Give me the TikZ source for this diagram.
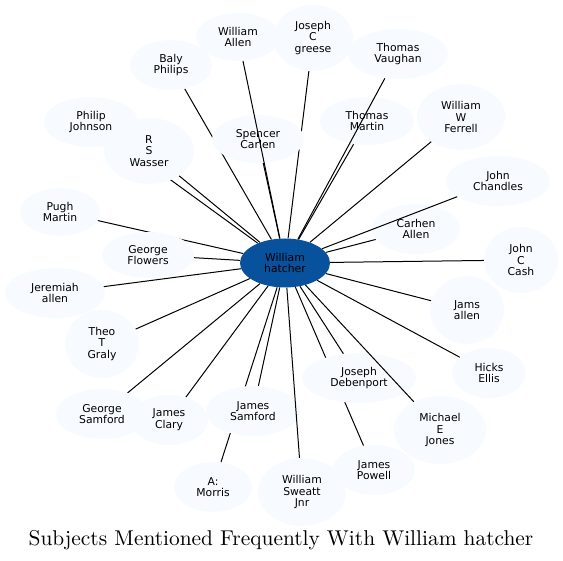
\documentclass[tikz,border=0pt]{standalone}
\usepackage{fontspec}
\usetikzlibrary{shapes.geometric}
\newfontfamily\labelfont{DejaVu Sans}
\newfontfamily\titlefont{lmroman10-regular}[Extension=.otf]
\definecolor{hubblue}{HTML}{08519C}
\definecolor{leafblue}{HTML}{F7FBFF}
\pgfdeclarelayer{background}
\pgfsetlayers{background,main}

\begin{document}
\begin{tikzpicture}[x=1pt, y=-1pt,
    person/.style={ellipse, fill=leafblue, inner sep=0pt, align=center,
      font=\labelfont\fontsize{10.8}{11.7}\selectfont},
    link/.style={line width=1pt}]
  \useasboundingbox (0,0) rectangle (563,561);

  \node[person, fill=hubblue, minimum width=90, minimum height=49] (hatcher) at (285,263) {William\\hatcher};

  \node[person, minimum width=84, minimum height=48] (allen) at (238,37) {William\\Allen};
  \node[person, minimum width=82, minimum height=50] (baly) at (171,65) {Baly\\Philips};
  \node[person, minimum width=80, minimum height=66] (greese) at (313,38) {Joseph\\C\\greese};
  \node[person, minimum width=100, minimum height=50] (vaughan) at (398,54) {Thomas\\Vaughan};
  \node[person, minimum width=94, minimum height=48] (tmartin) at (367,121) {Thomas\\Martin};
  \node[person, minimum width=88, minimum height=66] (ferrell) at (461,117) {William\\W\\Ferrell};
  \node[person, minimum width=104, minimum height=50] (chandles) at (498,181) {John\\Chandles};
  \node[person, minimum width=88, minimum height=50] (carhen) at (416,229) {Carhen\\Allen};
  \node[person, minimum width=74, minimum height=66] (cash) at (521,260) {John\\C\\Cash};
  \node[person, minimum width=92, minimum height=48] (spencer) at (258,139) {Spencer\\Carlen};
  \node[person, minimum width=94, minimum height=50] (johnson) at (91,122) {Philip\\Johnson};
  \node[person, minimum width=90, minimum height=66] (wasser) at (149,151) {R\\S\\Wasser};
  \node[person, minimum width=80, minimum height=48] (pugh) at (60,212) {Pugh\\Martin};
  \node[person, minimum width=92, minimum height=46] (flowers) at (148,255) {George\\Flowers};
  \node[person, minimum width=100, minimum height=50] (jeremiah) at (55,293) {Jeremiah\\allen};
  \node[person, minimum width=74, minimum height=68] (theo) at (102,344) {Theo\\T\\Graly};
  \node[person, minimum width=92, minimum height=50] (gsamford) at (102,414) {George\\Samford};
  \node[person, minimum width=78, minimum height=50] (clary) at (169,420) {James\\Clary};
  \node[person, minimum width=94, minimum height=50] (jsamford) at (253,411) {James\\Samford};
  \node[person, minimum width=78, minimum height=50] (morris) at (213,487) {A:\\Morris};
  \node[person, minimum width=88, minimum height=68] (sweatt) at (302,492) {William\\Sweatt\\Jnr};
  \node[person, minimum width=82, minimum height=50] (powell) at (374,470) {James\\Powell};
  \node[person, minimum width=114, minimum height=50] (debenport) at (359,378) {Joseph\\Debenport};
  \node[person, minimum width=92, minimum height=68] (jones) at (440,430) {Michael\\E\\Jones};
  \node[person, minimum width=74, minimum height=50] (hicks) at (489,373) {Hicks\\Ellis};
  \node[person, minimum width=74, minimum height=68] (jams) at (467,310) {Jams\\allen};

  \begin{pgfonlayer}{background}
    \foreach \who in {baly,greese,tmartin,ferrell,carhen,cash,spencer,johnson,wasser,pugh,flowers,jeremiah,theo,gsamford,clary,jsamford,morris,powell,debenport,hicks,jams}
      \draw[link] (hatcher) -- (\who);
  \end{pgfonlayer}
  \foreach \who in {allen,vaughan,chandles,jones,sweatt}
    \draw[link] (hatcher) -- (\who);

  \node[anchor=base, font=\titlefont\fontsize{21.4}{24}\selectfont] (title) at (281,546) {Subjects Mentioned Frequently With William hatcher};
\end{tikzpicture}
\end{document}
